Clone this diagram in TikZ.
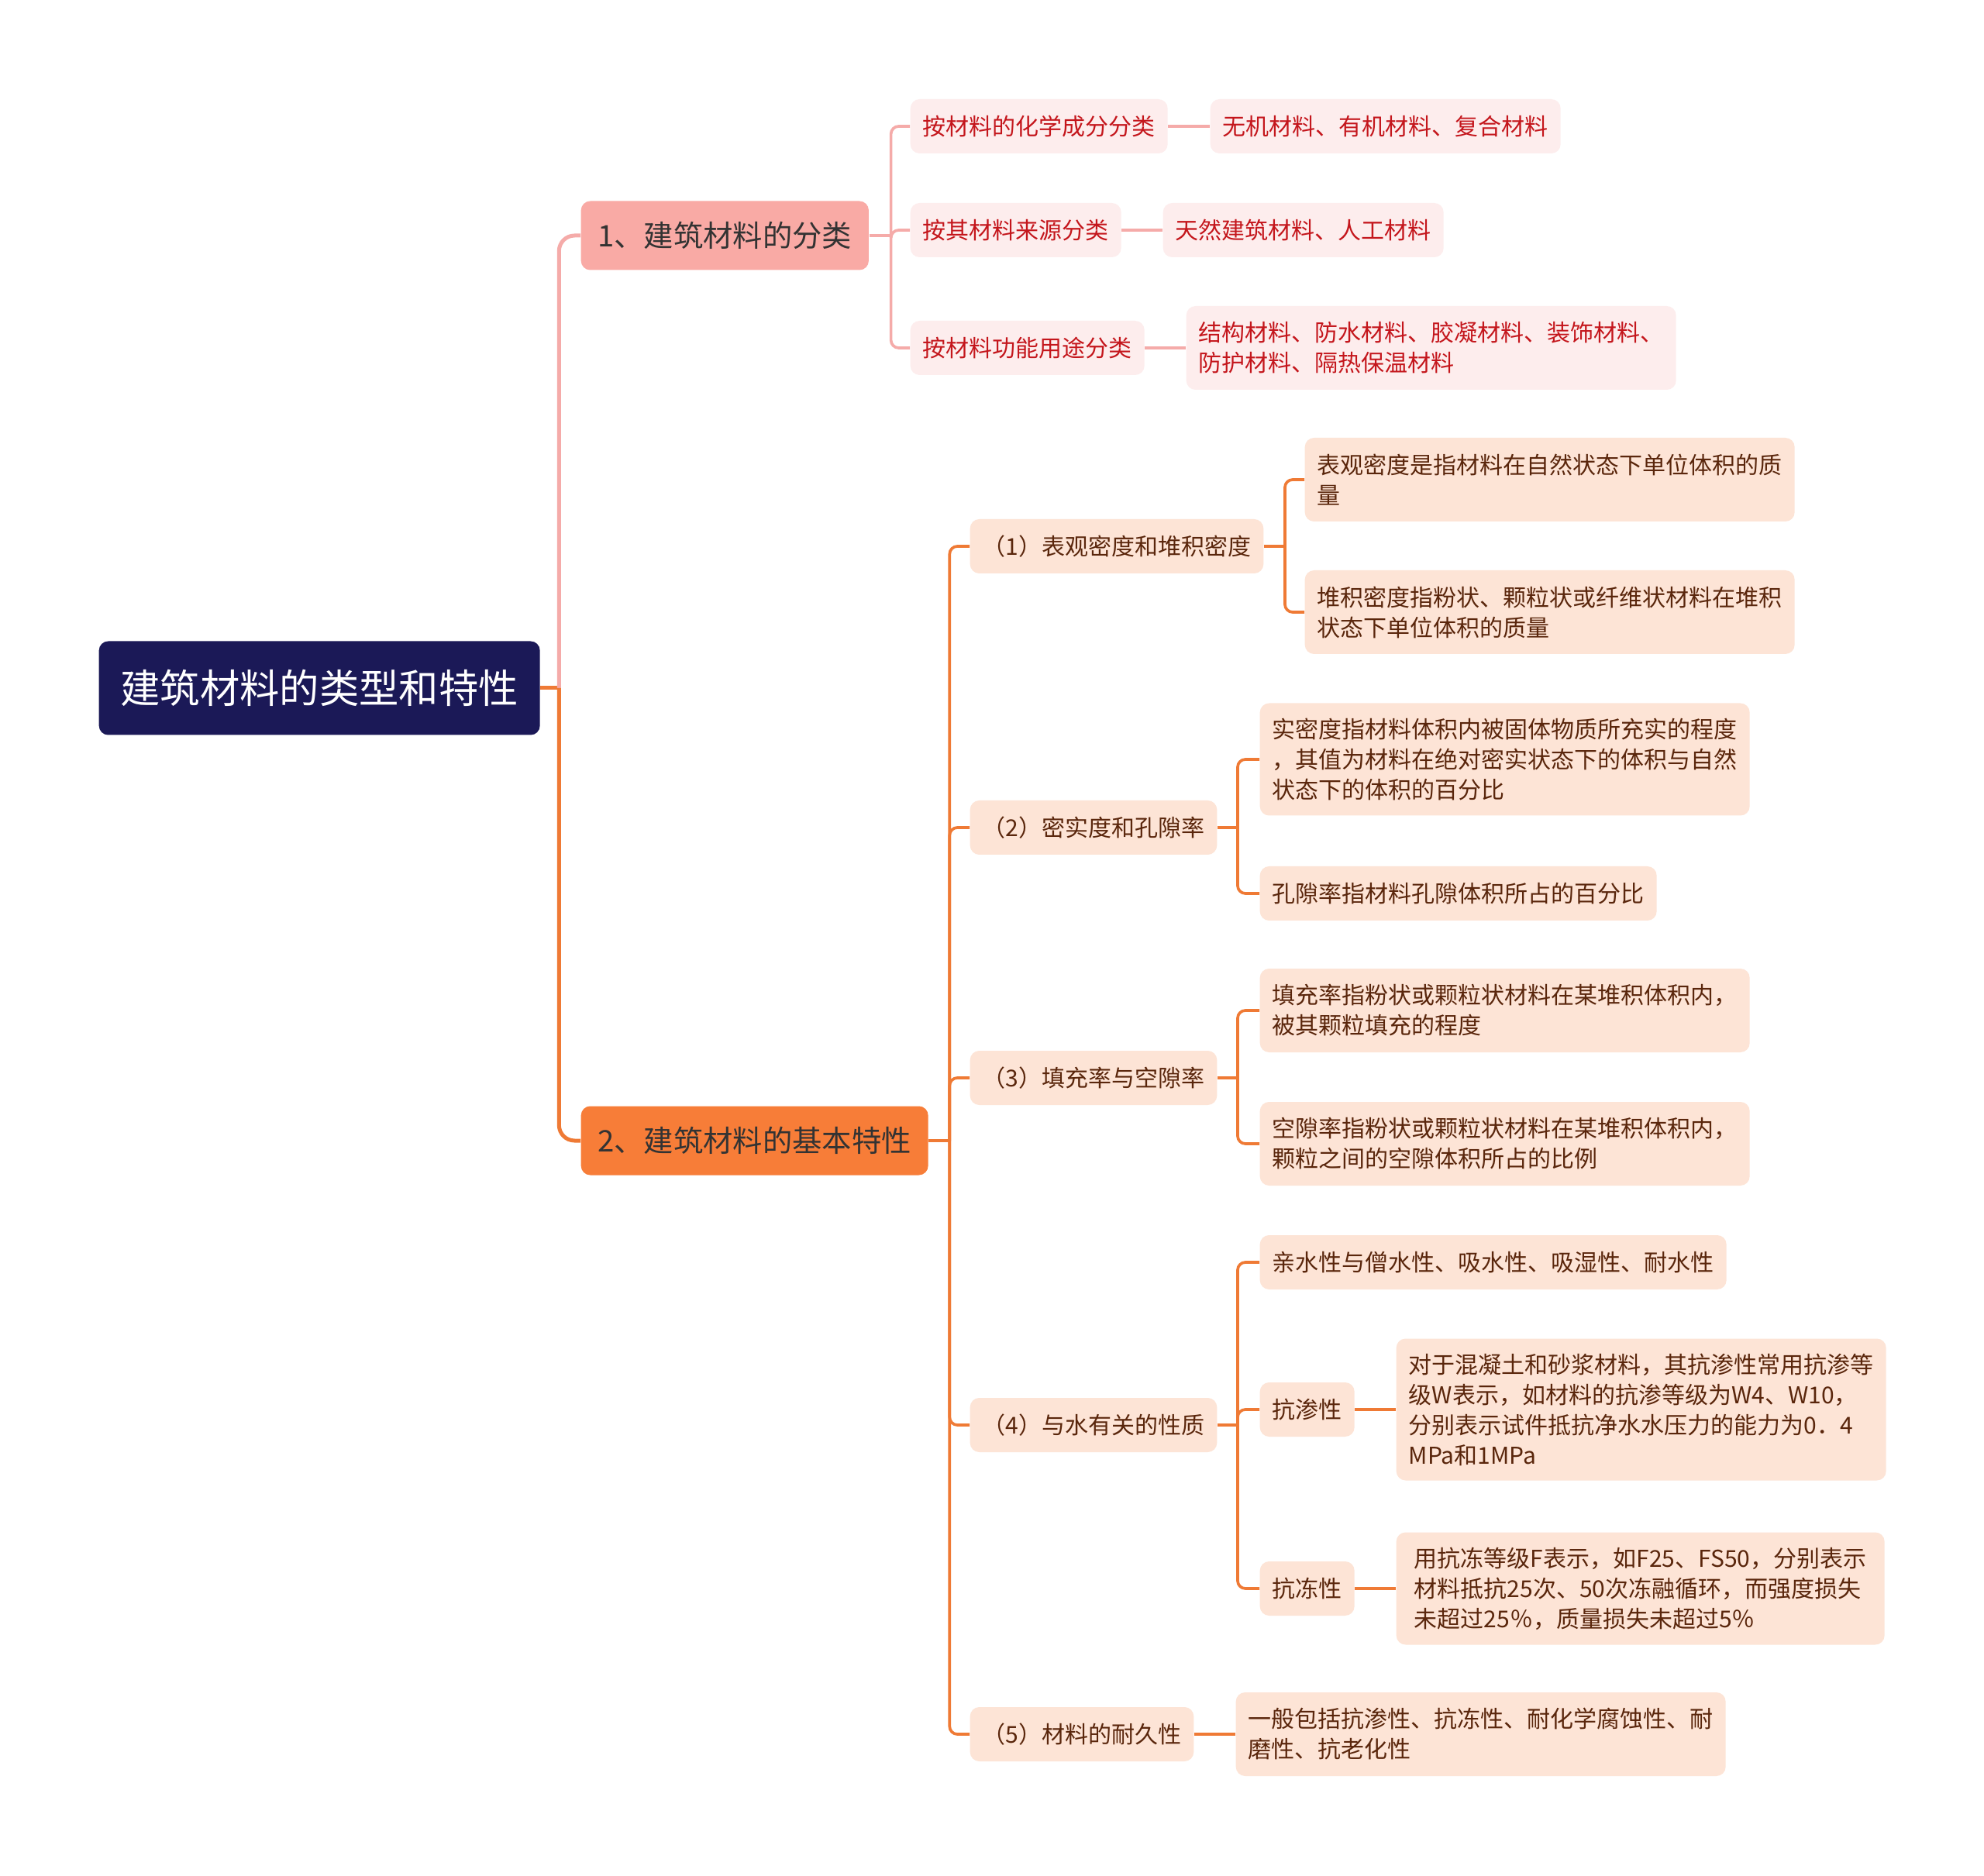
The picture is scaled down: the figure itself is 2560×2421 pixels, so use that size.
\documentclass[tikz,border=0pt]{standalone}
\usepackage{fontspec}
\setmainfont{Noto Sans CJK SC}

\definecolor{cNavy}{HTML}{1B1957}
\definecolor{cSalmon}{HTML}{F9AAA5}
\definecolor{cOrange}{HTML}{F77D38}
\definecolor{cPinkFill}{HTML}{FDEDED}
\definecolor{cPeachFill}{HTML}{FDE4D6}
\definecolor{cRedText}{HTML}{C4161C}
\definecolor{cBrownText}{HTML}{5A260C}
\definecolor{cPinkLine}{HTML}{F5ABA9}
\definecolor{cOrangeLine}{HTML}{EF7A35}

\begin{document}
\begin{tikzpicture}[
    x=0.3pt, y=-0.3pt,
    box/.style={rounded corners=3.6pt, anchor=west, align=left, inner xsep=4.8pt, inner ysep=0pt,
        minimum height=21pt, font=\fontsize{9pt}{11.7pt}\selectfont},
    rootbox/.style={box, fill=cNavy, text=white, inner xsep=8pt, minimum width=170.7pt,
        minimum height=36.3pt, font=\fontsize{15.4pt}{18pt}\selectfont},
    topic/.style={box, text=black!80, inner xsep=6.5pt, minimum height=26.7pt,
        font=\fontsize{11.5pt}{14pt}\selectfont},
    redleaf/.style={box, fill=cPinkFill, text=cRedText},
    peach/.style={box, fill=cPeachFill, text=cBrownText},
    two/.style={minimum height=32.4pt},
    three/.style={minimum height=43.5pt},
    four/.style={minimum height=54.9pt},
    mainpink/.style={draw=cPinkLine, line width=1.5pt, rounded corners=6pt},
    mainorange/.style={draw=cOrangeLine, line width=1.5pt, rounded corners=6pt},
    pinkedge/.style={draw=cPinkLine, line width=1.1pt, rounded corners=3pt},
    orangeedge/.style={draw=cOrangeLine, line width=1.1pt, rounded corners=3pt}
]

    \fill[white] (0,0) rectangle (2560,2421);
    \useasboundingbox (0,0) rectangle (2560,2421);

    % --- Root and the two topics ---
    \node[rootbox] (root) at (127,888) {建筑材料的类型和特性};
    \node[topic, fill=cSalmon] (n1) at (749,304) {1、建筑材料的分类};
    \node[topic, fill=cOrange] (n2) at (749,1472) {2、建筑材料的基本特性};

    % --- Topic 1: classification ---
    \node[redleaf] (a1) at (1174,163) {按材料的化学成分分类};
    \node[redleaf] (a1c) at (1561,163) {无机材料、有机材料、复合材料};
    \node[redleaf] (a2) at (1174,297) {按其材料来源分类};
    \node[redleaf] (a2c) at (1500,297) {天然建筑材料、人工材料};
    \node[redleaf] (a3) at (1174,449) {按材料功能用途分类};
    \node[redleaf, two] (a3c) at (1530,449) {结构材料、防水材料、胶凝材料、装饰材料、\\防护材料、隔热保温材料};

    % --- Topic 2: basic properties ---
    \node[peach] (b1) at (1251,705) {（1）表观密度和堆积密度};
    \node[peach, two] (b1a) at (1683,619) {表观密度是指材料在自然状态下单位体积的质\\量};
    \node[peach, two] (b1b) at (1683,790) {堆积密度指粉状、颗粒状或纤维状材料在堆积\\状态下单位体积的质量};

    \node[peach] (b2) at (1251,1068) {（2）密实度和孔隙率};
    \node[peach, three] (b2a) at (1625,980) {实密度指材料体积内被固体物质所充实的程度\\，其值为材料在绝对密实状态下的体积与自然\\状态下的体积的百分比};
    \node[peach] (b2b) at (1625,1153) {孔隙率指材料孔隙体积所占的百分比};

    \node[peach] (b3) at (1251,1391) {（3）填充率与空隙率};
    \node[peach, two] (b3a) at (1625,1304) {填充率指粉状或颗粒状材料在某堆积体积内，\\被其颗粒填充的程度};
    \node[peach, two] (b3b) at (1625,1476) {空隙率指粉状或颗粒状材料在某堆积体积内，\\颗粒之间的空隙体积所占的比例};

    \node[peach] (b4) at (1251,1839) {（4）与水有关的性质};
    \node[peach] (b4a) at (1625,1629) {亲水性与僧水性、吸水性、吸湿性、耐水性};
    \node[peach] (b4b) at (1625,1819) {抗渗性};
    \node[peach, four, minimum width=189pt] (b4bx) at (1801,1819) {对于混凝土和砂浆材料，其抗渗性常用抗渗等\\级W表示，如材料的抗渗等级为W4、W10，\\分别表示试件抵抗净水水压力的能力为0．4\\MPa和1MPa};
    \node[peach] (b4c) at (1625,2050) {抗冻性};
    \node[peach, three, minimum width=189pt] (b4cx) at (1801,2050) {用抗冻等级F表示，如F25、FS50，分别表示\\材料抵抗25次、50次冻融循环，而强度损失\\未超过25％，质量损失未超过5％};

    \node[peach] (b5) at (1251,2238) {（5）材料的耐久性};
    \node[peach, two] (b5a) at (1594,2238) {一般包括抗渗性、抗冻性、耐化学腐蚀性、耐\\磨性、抗老化性};

    % --- Junctions ---
    \coordinate (j0) at ([xshift=7.2pt]root.east);
    \coordinate (ja) at ([xshift=8.4pt]n1.east);
    \coordinate (jb) at ([xshift=8.1pt]n2.east);
    \coordinate (jb1) at ([xshift=8.1pt]b1.east);
    \coordinate (jb2) at ([xshift=7.8pt]b2.east);
    \coordinate (jb3) at ([xshift=7.8pt]b3.east);
    \coordinate (jb4) at ([xshift=7.8pt]b4.east);

    % --- Connectors ---
    \draw[mainorange] (root.east) -- (j0);
    \draw[mainpink] (j0) |- (n1.west);
    \draw[mainorange] (j0) |- (n2.west);

    \draw[pinkedge] (n1.east) -- (ja);
    \foreach \c in {a1,a2,a3}
        \draw[pinkedge] (ja) |- (\c.west);
    \foreach \p/\q in {a1/a1c, a2/a2c, a3/a3c}
        \draw[pinkedge] (\p.east) -- (\q.west);

    \draw[orangeedge] (n2.east) -- (jb);
    \foreach \c in {b1,b2,b3,b4,b5}
        \draw[orangeedge] (jb) |- (\c.west);

    \draw[orangeedge] (b1.east) -- (jb1);
    \foreach \c in {b1a,b1b}
        \draw[orangeedge] (jb1) |- (\c.west);
    \draw[orangeedge] (b2.east) -- (jb2);
    \foreach \c in {b2a,b2b}
        \draw[orangeedge] (jb2) |- (\c.west);
    \draw[orangeedge] (b3.east) -- (jb3);
    \foreach \c in {b3a,b3b}
        \draw[orangeedge] (jb3) |- (\c.west);
    \draw[orangeedge] (b4.east) -- (jb4);
    \foreach \c in {b4a,b4b,b4c}
        \draw[orangeedge] (jb4) |- (\c.west);

    \foreach \p/\q in {b4b/b4bx, b4c/b4cx, b5/b5a}
        \draw[orangeedge] (\p.east) -- (\q.west);
\end{tikzpicture}
\end{document}
